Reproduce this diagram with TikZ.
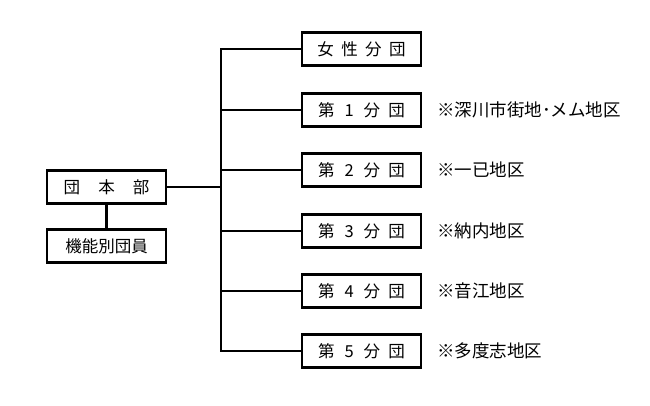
\documentclass[tikz,border=0pt]{standalone}
\usepackage{fontspec}
\setmainfont{Noto Sans CJK JP}
\begin{document}
\begin{tikzpicture}[x=1pt,y=-1pt,
  box/.style={draw,line width=2.2pt,minimum width=119pt,minimum height=33pt,inner sep=0pt,font=\fontsize{16.5}{16.5}\selectfont},
  note/.style={anchor=west,inner sep=0pt,font=\fontsize{17.5}{17.5}\selectfont},
  ln/.style={line width=2.2pt}]
\useasboundingbox (0,0) rectangle (650,406);
\node[box] (hq) at (106.5,187) {団\hspace{1.1em}本\hspace{1.1em}部};
\node[box] (kino) at (106.5,246) {機能別団員};
\node[box] (w) at (361.5,49) {女\hspace{0.45em}性\hspace{0.45em}分\hspace{0.45em}団};
\node[box] (b1) at (361.5,110) {第\hspace{0.6em}1\hspace{0.6em}分\hspace{0.5em}団};
\node[box] (b2) at (361.5,170) {第\hspace{0.6em}2\hspace{0.6em}分\hspace{0.5em}団};
\node[box] (b3) at (361.5,231) {第\hspace{0.6em}3\hspace{0.6em}分\hspace{0.5em}団};
\node[box] (b4) at (361.5,291) {第\hspace{0.6em}4\hspace{0.6em}分\hspace{0.5em}団};
\node[box] (b5) at (361.5,351) {第\hspace{0.6em}5\hspace{0.6em}分\hspace{0.5em}団};
\node[note] (n1) at (437,110) {※深川市街地･メム地区};
\node[note] (n2) at (437,170) {※一已地区};
\node[note] (n3) at (437,231) {※納内地区};
\node[note] (n4) at (437,291) {※音江地区};
\node[note] (n5) at (437,351) {※多度志地区};
\coordinate (tj) at (221,187);
\draw[ln] (hq) -- (kino);
\draw[ln] (hq.east) -- (tj);
\draw[ln] (w.west) -| (tj) |- (b5.west);
\foreach \b in {b1,b2,b3,b4} \draw[ln] (\b.west) -- (\b.west -| tj);
\end{tikzpicture}
\end{document}
